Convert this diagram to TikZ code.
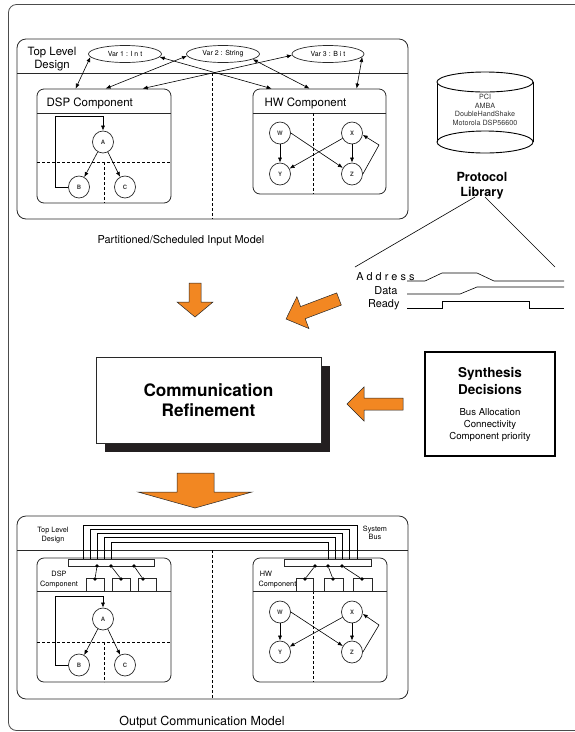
\documentclass[tikz,border=0pt]{standalone}
\usepackage{fontspec}
\setmainfont{TeX Gyre Heros}
\usetikzlibrary{arrows.meta,shapes.geometric,calc}
\definecolor{flow}{RGB}{242,135,34}
\definecolor{dropblack}{RGB}{35,31,32}
\definecolor{ink}{RGB}{40,40,40}
\newcommand\fsz[2]{\fontsize{#1}{#2}\selectfont}
\tikzset{
  box/.style={draw=ink, line width=0.8pt},
  model/.style={box, rounded corners=9pt},
  comp/.style={draw=ink, line width=0.8pt, rounded corners=7pt, rectangle, inner sep=0pt},
  vertex/.style={draw=ink, ellipse, line width=0.7pt, minimum width=21pt, minimum height=22pt, inner sep=0pt, font=\fsz{6}{7}\bfseries, text=black!75},
  varbox/.style={draw=ink, ellipse, line width=0.7pt, minimum width=73pt, minimum height=17pt, inner sep=0pt, font=\fsz{7}{8}},
  link/.style={line width=0.6pt, -{Latex[length=5pt,width=4pt]}},
  dlink/.style={line width=0.6pt, {Latex[length=5pt,width=4pt]}-{Latex[length=5pt,width=4pt]}},
  part/.style={line width=0.6pt, dash pattern=on 3pt off 2pt},
  wire/.style={line width=0.6pt},
  port/.style={draw=ink, line width=0.6pt, rectangle, inner sep=0pt, fill=white},
  dot/.style={circle, fill=black, inner sep=0pt, minimum size=3.6pt},
  flowarrow/.style={fill=flow, draw=black!85, line width=0.5pt, line join=miter},
}
\begin{document}
\begin{tikzpicture}[x=1pt,y=-1pt]
\clip (0,0) rectangle (575,732);
% sheet frame
\draw[draw=black!70, line width=0.8pt, rounded corners=8pt] (8.5,4.5) rectangle (700,730.5);

% ================= input model =================
\draw[model] (17,39) rectangle (408,219);
\draw[box] (17,73) -- (408,73);
\draw[part] (212,73) -- (212,219);
\node[font=\fsz{11.4}{13.5}, align=center] at (52,59) {Top Level\\Design};

\node[varbox] (v1) at (125,54) {Var 1 : I n t};
\node[varbox] (v2) at (223,54) {Var 2 : String};
\node[varbox, minimum width=72pt] (v3) at (328,54) {Var 3 : B i t};

% DSP component
\node[comp, minimum width=134pt, minimum height=114pt] (dsp) at (104,146) {};
\draw[box] (37,113) -- (171,113);
\node[anchor=west, font=\fsz{11.5}{13}] at (43,103) {DSP Component};
\draw[part] (37,162) -- (171,162);
\draw[part] (104,162) -- (104,203);
\node[vertex] (a) at (103,142) {A};
\node[vertex] (b) at (79,187) {B};
\node[vertex] (c) at (125,187) {C};
\draw[link] (a) -- (b);
\draw[link] (a) -- (c);
\draw[link] (b.west) -- ++(-13,0) |- ($(a.north)+(0,-14)$) -- (a.north);

% HW component
\node[comp, minimum width=133pt, minimum height=105pt] (hw) at (319.5,141.5) {};
\draw[box] (253,113) -- (386,113);
\node[anchor=west, font=\fsz{11.5}{13}] at (261,103) {HW Component};
\draw[part] (313,113) -- (313,194);
\node[vertex] (w) at (280,133) {W};
\node[vertex] (y) at (280,174) {Y};
\node[vertex] (x) at (352,133) {X};
\node[vertex] (z) at (352,174) {Z};
\draw[link] (w) -- (y);
\draw[link] (x) -- (z);
\draw[link] (w.east) -- (z);
\draw[link] (x) -- (y);
\draw[link] (z.east) -- (379,145) -- (x.-10);

% variable accesses
\draw[dlink] (v1.185) -- ([xshift=39pt]dsp.north west);
\draw[dlink] (v2.183) -- ([xshift=69pt]dsp.north west);
\draw[dlink] (v3.182) -- ([xshift=106pt]dsp.north west);
\draw[dlink] (v1.355) -- ([xshift=19pt]hw.north west);
\draw[dlink] (v2.350) -- ([xshift=57pt]hw.north west);
\draw[dlink] (v3.355) -- ([xshift=104pt]hw.north west);

\node[font=\fsz{10.9}{13}] at (181,241) {Partitioned/Scheduled Input Model};

% ================= protocol library =================
\draw[line width=0.9pt, fill=white] (485,142) ellipse [x radius=48, y radius=11];
\draw[line width=0.9pt] (437,82) -- (437,142) (533,82) -- (533,142);
\draw[line width=0.9pt, fill=white] (485,82) ellipse [x radius=48, y radius=10];
\node[font=\fsz{7.2}{8.7}, align=center, text=black!80] at (485,110) {PCI\\AMBA\\DoubleHandShake\\Motorola DSP56600};
\node[font=\fsz{12.6}{14.5}\bfseries, align=center] (lib) at (482,186) {Protocol\\Library};
\coordinate (libL) at (475,197);
\coordinate (libR) at (485,197);
\draw[wire] (libL) -- (355,267);
\draw[wire] (libR) -- (555,267);

% timing
\node[anchor=east, font=\fsz{10.9}{12}] at (418,277) {A d d r e s s};
\node[anchor=east, font=\fsz{10.9}{12}] at (401,291) {Data};
\node[anchor=east, font=\fsz{10.9}{12}] at (403,305) {Ready};
\draw[wire] (407,281) -- (425,281) -- (442,273) -- (477,273) -- (494,281) -- (564,281);
\draw[wire] (407,294) -- (460,294) -- (477,287) -- (564,287);
\draw[wire] (407,308) -- (442,308) -- (442,301) -- (529,301) -- (529,308) -- (564,308);

% ================= refinement =================
\fill[dropblack] (105,366) rectangle (330,452);
\node[draw=ink, fill=white, line width=0.8pt, minimum width=225pt, minimum height=86pt,
      font=\fsz{17.2}{20}\bfseries, align=center] (cr) at (208.5,400) {Communication\\Refinement};

\node[draw=black, line width=1.3pt, minimum width=130pt, minimum height=104pt] (sd) at (490,404) {};
\node[font=\fsz{13.5}{17}\bfseries, align=center] at (490,381.5) {Synthesis\\Decisions};
\node[font=\fsz{9.6}{12}, align=center] at (490,425) {Bus Allocation\\Connectivity\\Component priority};

% flow arrows
\filldraw[flowarrow] (189,283) -- (201,283) -- (201,302) -- (213,302) -- (195,317) -- (177,302) -- (189,302) -- cycle;
\begin{scope}[shift={(339,299)}, rotate=200.7]
  \filldraw[flowarrow] (0,-6.5) -- (38.6,-6.5) -- (38.6,-17) -- (56.6,0) -- (38.6,17) -- (38.6,6.5) -- (0,6.5) -- cycle;
\end{scope}
\filldraw[flowarrow] (403,398) -- (364,398) -- (364,387) -- (347,404) -- (364,421) -- (364,410) -- (403,410) -- cycle;
\filldraw[flowarrow] (177,473) -- (214,473) -- (214,492) -- (252,492) -- (195,508) -- (138,492) -- (177,492) -- cycle;

% ================= output model =================
\draw[model] (17,516) rectangle (408,699);
\draw[box] (17,550) -- (408,550);
\draw[part] (212,550) -- (212,699);
\node[font=\fsz{7.3}{8.3}, align=center] at (53,535) {Top Level\\Design};
\node[font=\fsz{7.3}{8.3}, align=center] at (375,533) {System\\Bus};

% DSP component
\node[comp, minimum width=134pt, minimum height=124pt] (dsp2) at (104,620) {};
\draw[box] (37,591) -- (171,591);
\node[font=\fsz{7.3}{10}, align=center] at (59,580) {DSP\\Component};
\draw[part] (37,642) -- (171,642);
\draw[part] (104,642) -- (104,682);
\node[vertex] (a2) at (103,619) {A};
\node[vertex] (b2) at (79,665) {B};
\node[vertex] (c2) at (125,665) {C};
\draw[link] (a2) -- (b2);
\draw[link] (a2) -- (c2);
\draw[link] (b2.west) -- ++(-13,0) |- ($(a2.north)+(0,-11)$) -- (a2.north);

% HW component
\node[comp, minimum width=134pt, minimum height=124pt] (hw2) at (320,620) {};
\draw[box] (253,591) -- (387,591);
\node[font=\fsz{7.3}{10}, align=left, anchor=west] at (255,580) {\,HW\\Component};
\draw[part] (313,591) -- (313,682);
\node[vertex] (w2) at (280,612) {W};
\node[vertex] (y2) at (280,652) {Y};
\node[vertex] (x2) at (352,612) {X};
\node[vertex] (z2) at (352,652) {Z};
\draw[link] (w2) -- (y2);
\draw[link] (x2) -- (z2);
\draw[link] (w2.east) -- (z2);
\draw[link] (x2) -- (y2);
\draw[link] (z2.east) -- (379,625) -- (x2.-10);

% system bus
\foreach \i in {0,...,4} {
  \draw[wire] ({83+7*\i},559) |- ({357-7.25*\i},{525+4.2*\i}) -- ({357-7.25*\i},559);
}
\node[port, minimum width=86pt, minimum height=7pt] (lbus) at (111,562.5) {};
\node[port, minimum width=87pt, minimum height=7pt] (rbus) at (327.5,562.5) {};

% interface ports
\node[port, minimum width=18pt, minimum height=13pt] (lp1) at (95,584.5) {};
\node[port, minimum width=18pt, minimum height=13pt] (lp2) at (121,584.5) {};
\node[port, minimum width=18pt, minimum height=13pt] (lp3) at (147,584.5) {};
\node[port, minimum width=17pt, minimum height=13pt] (rp1) at (304.5,584.5) {};
\node[port, minimum width=19pt, minimum height=13pt] (rp2) at (333.5,584.5) {};
\node[port, minimum width=19pt, minimum height=13pt] (rp3) at (362.5,584.5) {};

\node[dot] (la1) at (97,566) {};
\node[dot] (la2) at (111,566) {};
\node[dot] (la3) at (134,566) {};
\node[dot] (lb1) at (95,579) {};
\node[dot] (lb2) at (121,579) {};
\node[dot] (lb3) at (143,579) {};
\node[dot] (ra1) at (315,566) {};
\node[dot] (ra2) at (328,566) {};
\node[dot] (ra3) at (342,566) {};
\node[dot] (rb1) at (305,579) {};
\node[dot] (rb2) at (333,579) {};
\node[dot] (rb3) at (362,579) {};
\draw[wire] (la1) -- (lb1) (la2) -- (lb2) (la3) -- (lb3);
\draw[wire] (ra1) -- (rb1) (ra2) -- (rb2) (ra3) -- (rb3);

\node[font=\fsz{12.5}{14}] at (202,722) {Output Communication Model};
\end{tikzpicture}
\end{document}
